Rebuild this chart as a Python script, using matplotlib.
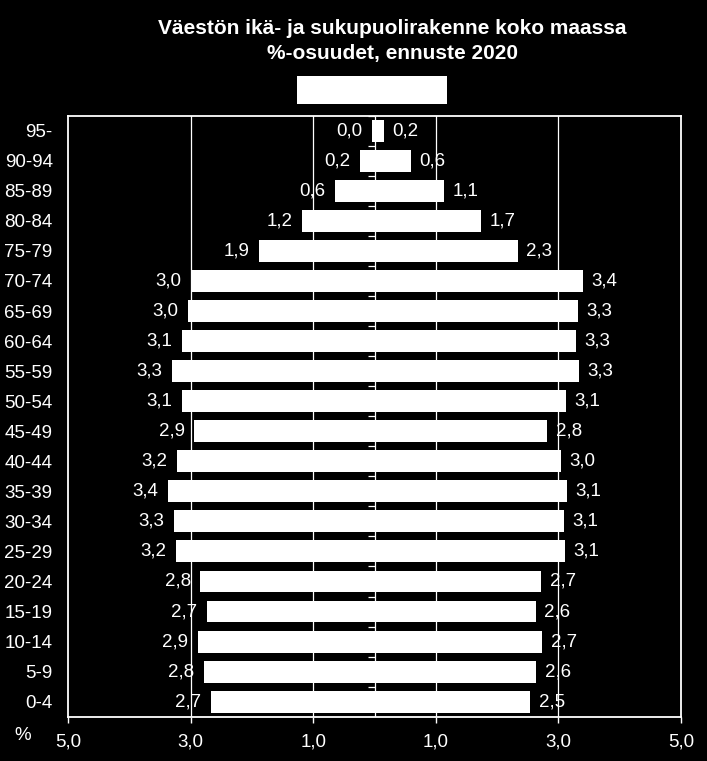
import matplotlib
matplotlib.use("Agg")
import matplotlib.pyplot as plt
from matplotlib.patches import Rectangle

plt.rcParams['font.family'] = ['Liberation Sans', 'DejaVu Sans']

age_groups = ["95-", "90-94", "85-89", "80-84", "75-79", "70-74", "65-69", "60-64",
              "55-59", "50-54", "45-49", "40-44", "35-39", "30-34", "25-29", "20-24",
              "15-19", "10-14", "5-9", "0-4"]
left_values = [0.04, 0.23, 0.64, 1.18, 1.88, 3.00, 3.04, 3.14, 3.30, 3.14, 2.94, 3.22,
               3.37, 3.27, 3.24, 2.84, 2.74, 2.88, 2.78, 2.67]
right_values = [0.16, 0.60, 1.14, 1.74, 2.34, 3.40, 3.32, 3.29, 3.34, 3.13, 2.82, 3.04,
                3.14, 3.09, 3.11, 2.72, 2.63, 2.74, 2.64, 2.54]
xtick_values = [-5, -3, -1, 1, 3, 5]
xtick_labels = ["5,0", "3,0", "1,0", "1,0", "3,0", "5,0"]
title = "Väestön ikä- ja sukupuolirakenne koko maassa\n%-osuudet, ennuste 2020"

W, H = 707, 761
fig = plt.figure(figsize=(W / 100, H / 100), dpi=100, facecolor='black')
ax = fig.add_axes([68 / W, 1 - 716.7 / H, (681 - 68) / W, (716.7 - 115.7) / H])
ax.set_facecolor('black')

n = len(age_groups)
ys = [n - 1 - i for i in range(n)]

ax.set_xlim(-5, 5)
ax.set_ylim(-0.5, n - 0.5)

# gridlines
for gx in [-3, -1, 1, 3]:
    ax.axvline(gx, color='white', lw=0.9, zorder=1)

# center axis with ticks at category boundaries
ax.vlines(0, -0.5, n - 0.5, color='white', lw=0.9, zorder=1)
bounds = [k + 0.5 for k in range(-1, n)]
ax.hlines(bounds, -0.1, 0, color='white', lw=0.9, zorder=1)

ax.barh(ys, [-v for v in left_values], height=0.73, color='white', zorder=2)
ax.barh(ys, right_values, height=0.73, color='white', zorder=2)

fs = 13.5
for y, lv, rv in zip(ys, left_values, right_values):
    ax.annotate(f"{lv:.1f}".replace('.', ','), xy=(-lv, y), xytext=(-7, 0),
                textcoords='offset points', ha='right', va='center',
                color='white', fontsize=fs, zorder=3)
    ax.annotate(f"{rv:.1f}".replace('.', ','), xy=(rv, y), xytext=(6, 0),
                textcoords='offset points', ha='left', va='center',
                color='white', fontsize=fs, zorder=3)

ax.set_yticks(ys)
ax.set_yticklabels(age_groups, fontsize=fs, color='white')
ax.tick_params(axis='y', length=0, pad=11)
ax.set_xticks(xtick_values)
ax.set_xticklabels(xtick_labels, fontsize=fs, color='white')
ax.tick_params(axis='x', colors='white', length=4, width=1, direction='out', pad=8)

for s in ax.spines.values():
    s.set_color('white')
    s.set_linewidth(1.3)

fig.text(392 / W, 1 - 28 / H, "Väestön ikä- ja sukupuolirakenne koko maassa",
         ha='center', va='center', color='white', fontsize=15, fontweight='bold')
fig.text(392 / W, 1 - 53 / H, "%-osuudet, ennuste 2020",
         ha='center', va='center', color='white', fontsize=15, fontweight='bold')

# legend box
fig.patches.append(Rectangle((297 / W, 1 - 104 / H), 150 / W, 28 / H,
                             transform=fig.transFigure, facecolor='white',
                             edgecolor='none'))

fig.text(23 / W, 1 - 735 / H, "%", ha='center', va='center', color='white', fontsize=fs)

fig.savefig("out.png", dpi=100, facecolor='black')
